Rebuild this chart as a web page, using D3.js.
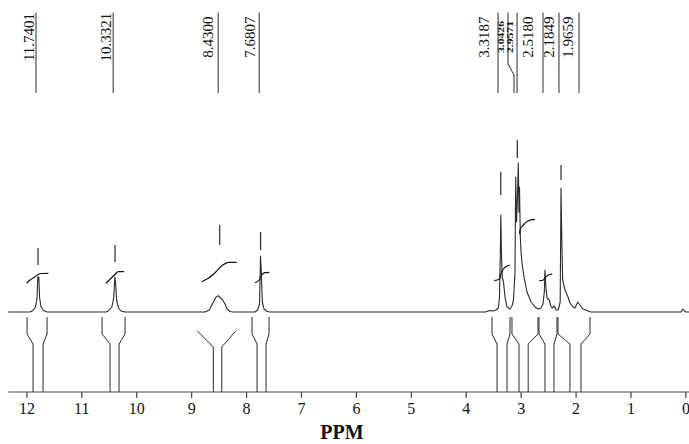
<!DOCTYPE html>
<html>
<head>
<meta charset="utf-8">
<script src="https://cdn.jsdelivr.net/npm/d3@7"></script>
<style>
  html, body { margin: 0; padding: 0; background: #fff; }
  svg { display: block; }
</style>
</head>
<body>
<svg id="chart" width="689" height="444"></svg>
<script>
// ---------------- DATA ----------------
const ppmTicks = [12, 11, 10, 9, 8, 7, 6, 5, 4, 3, 2, 1, 0];
const axisTitle = "PPM";

// spectrum trace (ppm, intensity)
const specPpm = [12.33, 11.935, 11.88, 11.834, 11.807, 11.792, 11.774, 11.759, 11.734, 11.688, 11.62,
  10.55, 10.50, 10.444, 10.408, 10.39, 10.376, 10.358, 10.323, 10.278, 10.205,
  8.747, 8.669, 8.596, 8.547, 8.505, 8.465, 8.425, 8.383, 8.347, 8.292, 8.237,
  7.838, 7.79, 7.755, 7.737, 7.722, 7.704, 7.673, 7.618, 7.564,
  3.646, 3.558, 3.503, 3.449, 3.407, 3.385, 3.370, 3.361, 3.350, 3.336, 3.312, 3.285, 3.248, 3.194,
  3.158, 3.130, 3.103, 3.090, 3.076, 3.061, 3.043, 3.030, 3.021, 3.006, 2.993, 2.975, 2.939, 2.884,
  2.811, 2.739, 2.684, 2.629, 2.593, 2.569, 2.556, 2.541, 2.520, 2.478, 2.451, 2.425, 2.389, 2.352,
  2.316, 2.280, 2.265, 2.250, 2.235, 2.192, 2.138, 2.101, 2.047, 2.010, 1.961, 1.919, 1.864, 1.773, 1.719,
  0.08, 0.044, 0.016, -0.011, -0.066];
const specInt = [0, 0, 1.5, 5, 14, 35, 35, 14, 5, 1.5, 0,
  0, 1.5, 5, 15, 35, 30, 12, 4, 1, 0,
  0, 2, 10, 15, 16.3, 14, 12, 8, 3, 0.5, 0,
  0, 2, 8, 56, 40, 10, 3, 0.5, 0,
  0, 1.5, 1, 2, 4, 15, 60, 97, 60, 35, 30, 15, 5, 3,
  6, 12, 40, 135, 90, 110, 149, 100, 125, 75, 60, 49, 35, 20,
  10, 5, 3, 4, 8, 20, 42, 25, 14, 12, 6, 4, 6, 2,
  2, 10, 124, 70, 32, 22, 15, 9, 5, 4, 10, 7, 3, 1, 0,
  0, 3, 1, 0, 0];

// integral curves (ppm, level)
const integralCurves = [
  [[11.994, 28.7], [11.934, 32], [11.843, 35.3], [11.788, 37.5], [11.715, 38.5], [11.600, 38.7]],
  [[10.555, 28.7], [10.477, 32.7], [10.398, 37], [10.325, 40.3], [10.222, 40.3]],
  [[8.807, 30.3], [8.687, 33.7], [8.547, 40.3], [8.425, 47], [8.323, 49.7], [8.170, 49.7]],
  [[7.837, 29.3], [7.759, 32], [7.716, 37], [7.655, 39.3], [7.576, 39.7]],
  [[3.480, 31.3], [3.389, 32.7], [3.345, 40.3], [3.285, 44.7], [3.194, 47]],
  [[3.021, 78], [3.012, 82], [2.951, 87], [2.860, 91.3], [2.739, 92.7]],
  [[2.660, 31.3], [2.587, 32], [2.538, 35.3], [2.496, 37], [2.423, 38]]
];

// integration regions: outer left, outer right, inner left, inner right (ppm)
const regionOuterL = [11.988, 10.623, 8.887, 7.891, 3.521, 3.158, 2.666, 2.320];
const regionOuterR = [11.624, 10.204, 8.188, 7.582, 3.194, 2.684, 2.338, 1.737];
const regionInnerL = [11.879, 10.477, 8.596, 7.800, 3.430, 3.030, 2.557, 2.102];
const regionInnerR = [11.697, 10.313, 8.443, 7.636, 3.248, 2.863, 2.393, 1.901];
const regionTapered = [false, false, true, false, false, false, false, false];

// peak-pick markers (ppm, low level, high level)
const markerPpm = [11.788, 10.386, 8.48, 7.736, 3.362, 3.061, 2.265];
const markerLo = [47, 50, 67, 62, 117, 154, 132];
const markerHi = [64, 67, 87, 80, 140, 172, 147];

// peak labels
const labelText = ["11.7401", "10.3321", "8.4300", "7.6807", "3.3187", "3.0426", "2.9571", "2.5180", "2.1849", "1.9659"];
const labelTopPpm = [11.825, 10.420, 8.508, 7.761, 3.412, 3.230, 3.066, 2.593, 2.302, 1.937];
const labelBotPpm = [11.825, 10.420, 8.508, 7.761, 3.412, 3.121, 3.066, 2.593, 2.302, 1.937];
const labelTextPpm = [11.861, 10.460, 8.600, 7.837, 3.571, 3.309, 3.145, 2.775, 2.393, 2.047];
const labelSmall = [false, false, false, false, false, true, true, false, false, false];

// ---------------- CHART ----------------
const svg = d3.select("#chart");
const x = d3.scaleLinear().domain([12, 0]).range([26.4, 685.4]);
const y = d3.scaleLinear().domain([0, 170]).range([312, 142]);
const axisY = 392;
const ink = "#2a2a2a";
const serif = "'Liberation Serif', 'Times New Roman', serif";

// axis line
svg.append("line")
  .attr("x1", x(12.33)).attr("x2", x(-0.07))
  .attr("y1", axisY).attr("y2", axisY)
  .attr("stroke", "#444").attr("stroke-width", 1.2);

const axis = d3.axisBottom(x).tickValues(ppmTicks).tickSize(6).tickPadding(4).tickFormat(d3.format("d"));
const gAxis = svg.append("g").attr("transform", `translate(0,${axisY})`).call(axis);
gAxis.select(".domain").remove();
gAxis.selectAll(".tick line").attr("stroke", "#444").attr("stroke-width", 1.2);
gAxis.selectAll(".tick text")
  .attr("font-family", serif).attr("font-size", 16).attr("fill", "#111").attr("dy", "0.75em");

svg.append("text")
  .attr("x", 342).attr("y", 439)
  .attr("text-anchor", "middle")
  .attr("font-family", serif).attr("font-weight", "bold").attr("font-size", 20)
  .attr("fill", "#111")
  .text(axisTitle);

// spectrum
const spec = specPpm.map((p, i) => [p, specInt[i]]);
const line = d3.line().x(d => x(d[0])).y(d => y(d[1]));
svg.append("path")
  .datum(spec)
  .attr("d", line)
  .attr("fill", "none").attr("stroke", ink).attr("stroke-width", 1.1)
  .attr("stroke-linejoin", "round");

// integral curves
const iline = d3.line().x(d => x(d[0])).y(d => y(d[1])).curve(d3.curveMonotoneX);
svg.selectAll(".integral")
  .data(integralCurves)
  .join("path")
  .attr("class", "integral")
  .attr("d", iline)
  .attr("fill", "none").attr("stroke", "#111").attr("stroke-width", 1.2);

// peak markers
svg.selectAll(".marker")
  .data(markerPpm)
  .join("line")
  .attr("class", "marker")
  .attr("x1", d => x(d)).attr("x2", d => x(d))
  .attr("y1", (d, i) => y(markerLo[i])).attr("y2", (d, i) => y(markerHi[i]))
  .attr("stroke", ink).attr("stroke-width", 1.2);

// integration region brackets below baseline
const topY = 317, kinkA = 334, kinkB = 344, taperTop = 331, taperBot = 347;
regionOuterL.forEach((_, i) => {
  const sides = [[regionOuterL[i], regionInnerL[i]], [regionOuterR[i], regionInnerR[i]]];
  sides.forEach(([o, n]) => {
    const pts = regionTapered[i]
      ? [[x(o), taperTop], [x(n), taperBot], [x(n), axisY]]
      : [[x(o), topY], [x(o), kinkA], [x(n), kinkB], [x(n), axisY]];
    svg.append("path")
      .attr("d", d3.line()(pts))
      .attr("fill", "none").attr("stroke", ink).attr("stroke-width", 1);
  });
});

// peak labels at top
const lblTop = 12.5, lblBot = 93, bendA = 64, bendB = 75, textMid = 37;
labelText.forEach((t, i) => {
  const xt = x(labelTopPpm[i]), xb = x(labelBotPpm[i]);
  const pts = xt === xb ? [[xt, lblTop], [xb, lblBot]]
    : [[xt, lblTop], [xt, bendA], [xb, bendB], [xb, lblBot]];
  svg.append("path")
    .attr("d", d3.line()(pts))
    .attr("fill", "none").attr("stroke", ink).attr("stroke-width", 1);
  const tx = x(labelTextPpm[i]);
  const txt = svg.append("text")
    .attr("transform", `translate(${tx},${textMid}) rotate(-90)`)
    .attr("text-anchor", "middle")
    .attr("font-family", serif)
    .attr("fill", "#111")
    .text(t);
  if (labelSmall[i]) {
    txt.attr("font-size", 8).attr("font-weight", "bold")
      .attr("textLength", 32).attr("lengthAdjust", "spacingAndGlyphs");
  } else {
    txt.attr("font-size", 15);
  }
});
</script>
</body>
</html>
